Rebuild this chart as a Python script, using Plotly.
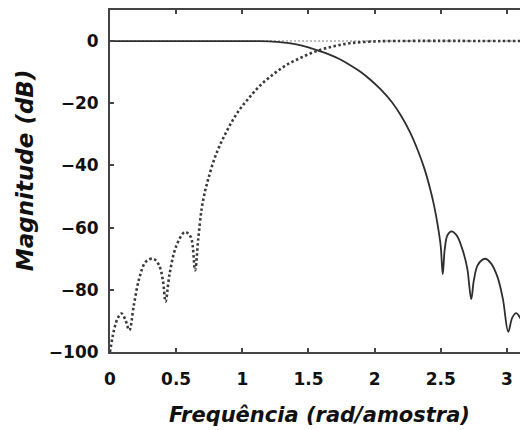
import plotly.graph_objects as go

# Lowpass (solid) response
low_x = [0.0, 0.5, 1.0, 1.13, 1.2, 1.3, 1.4, 1.5, 1.57, 1.65, 1.73, 1.81, 1.89, 1.97, 2.05, 2.13,
         2.2, 2.27, 2.33, 2.38, 2.42, 2.45, 2.48, 2.50, 2.515, 2.53, 2.55, 2.58, 2.62, 2.66, 2.70,
         2.73, 2.75, 2.78, 2.835, 2.88, 2.93, 2.97, 3.01, 3.04, 3.07, 3.10, 3.14]
low_y = [0.0, 0.0, 0.0, 0.0, -0.1, -0.4, -1.0, -2.0, -3.0, -4.2, -5.7, -7.6, -9.8, -12.5, -15.7, -19.6,
         -24.0, -29.5, -35.5, -41.5, -47.6, -53.0, -60.0, -66.0, -75.0, -67.0, -62.5, -61.2, -62.5, -66.5, -73.0,
         -83.0, -77.0, -72.0, -70.0, -71.5, -76.0, -83.0, -93.5, -89.0, -87.5, -89.0, -93.0]

# Highpass (dotted) response
high_x = [0.0, 0.03, 0.06, 0.088, 0.115, 0.146, 0.18, 0.22, 0.27, 0.327, 0.37, 0.40, 0.42, 0.45,
          0.50, 0.567, 0.61, 0.643, 0.667, 0.693, 0.72, 0.743, 0.78, 0.82, 0.87, 0.92, 0.98, 1.05,
          1.13, 1.23, 1.33, 1.45, 1.575, 1.70, 1.81, 1.95, 2.1, 3.14]
high_y = [-100.0, -93.0, -89.0, -87.6, -89.5, -93.0, -85.0, -76.5, -71.0, -70.0, -72.0, -77.0, -83.8, -75.0,
          -66.0, -61.4, -63.0, -73.7, -63.6, -53.9, -48.0, -44.3, -39.0, -34.5, -30.0, -26.0, -22.0, -18.3,
          -14.5, -10.8, -7.8, -5.2, -3.0, -1.6, -0.7, -0.2, 0.0, 0.0]

# Sum (light dotted reference at 0 dB)
sum_x = [0.0, 3.14]
sum_y = [0.0, 0.0]

x_ticks = [0, 0.5, 1, 1.5, 2, 2.5, 3]
x_tick_text = ["0", "0.5", "1", "1.5", "2", "2.5", "3"]
y_ticks = [0, -20, -40, -60, -80, -100]
y_tick_text = ["0", "\u221220", "\u221240", "\u221260", "\u221280", "\u2212100"]

fig = go.Figure()
fig.add_trace(go.Scatter(x=sum_x, y=sum_y, mode="lines",
                         line=dict(color="#bdbdbd", width=2, dash="2px,2px"), hoverinfo="skip"))
fig.add_trace(go.Scatter(x=high_x, y=high_y, mode="lines", line_shape="spline",
                         line=dict(color="#3a3a3a", width=2.6, dash="2.5px,2.5px")))
fig.add_trace(go.Scatter(x=low_x, y=low_y, mode="lines", line_shape="spline",
                         line=dict(color="#2e2e2e", width=1.8)))

tick_font = dict(family="DejaVu Sans", size=17, color="#111111", weight="bold")
fig.update_layout(
    width=520, height=430,
    margin=dict(l=110, r=0, t=10, b=78),
    paper_bgcolor="white", plot_bgcolor="white",
    showlegend=False,
    font=dict(family="DejaVu Sans", color="#111111"),
    xaxis=dict(range=[0, 3.099], tickvals=x_ticks, ticktext=x_tick_text,
               ticks="inside", ticklen=4, tickwidth=1.5, tickcolor="#444",
               showline=True, linecolor="#444", linewidth=2, mirror="ticks",
               showgrid=False, zeroline=False, tickfont=tick_font,
               ticklabelstandoff=11),
    yaxis=dict(range=[-100, 10], tickvals=y_ticks, ticktext=y_tick_text,
               ticks="inside", ticklen=4, tickwidth=1.5, tickcolor="#444",
               showline=True, linecolor="#444", linewidth=2, mirror=False,
               showgrid=False, zeroline=False, tickfont=tick_font,
               ticklabelstandoff=6),
    annotations=[
        dict(text="<b><i>Frequência (rad/amostra)</i></b>", xref="paper", yref="paper",
             x=0.51, y=-0.184, showarrow=False, xanchor="center", yanchor="middle",
             font=dict(family="DejaVu Sans", size=21, color="#111111")),
        dict(text="<b><i>Magnitude (dB)</i></b>", xref="paper", yref="paper",
             x=-0.207, y=0.532, showarrow=False, xanchor="center", yanchor="middle",
             textangle=-90, font=dict(family="DejaVu Sans", size=23, color="#111111")),
    ],
)
fig.write_html("out.html")
